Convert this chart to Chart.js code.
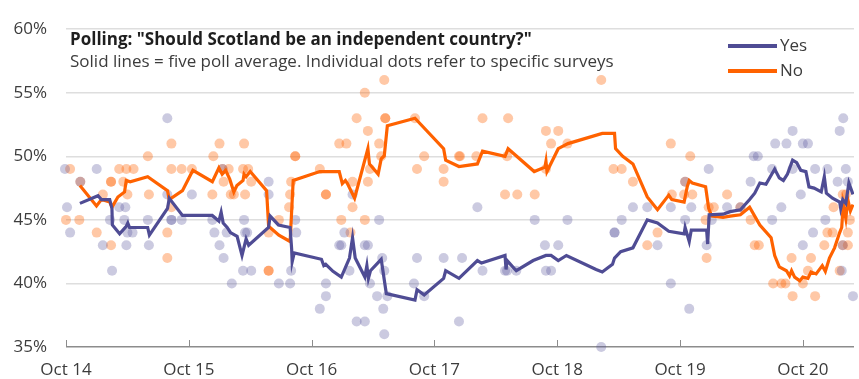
<!DOCTYPE html>
<html>
<head>
<meta charset="utf-8">
<script src="https://cdn.jsdelivr.net/npm/chart.js@4.4.1/dist/chart.umd.min.js"></script>
<style>
html, body { margin: 0; padding: 0; background: #fff; }
</style>
</head>
<body>
<canvas id="myChart" width="859" height="379"></canvas>
<script>
// x = months since Oct 2014
const xTickLabels = ['Oct 14', 'Oct 15', 'Oct 16', 'Oct 17', 'Oct 18', 'Oct 19', 'Oct 20'];

// five poll averages
const yesLineX = [1.36,3.13,3.46,4.27,4.49,4.53,5.24,5.89,6.04,6.21,7.98,8.15,9.92,10.09,11.38,14.29,14.94,15.16,15.36,15.75,16.07,16.72,17.2,17.6,17.85,19.79,19.95,20.76,21.9,22.05,22.1,22.3,24.96,25.19,25.38,26.09,26.9,27.7,28.0,28.26,29.2,29.4,29.55,29.75,30.8,31.3,34.1,34.3,35.0,36.9,37.1,38.4,40.2,40.6,42.9,43.0,43.1,44.0,45.65,46.9,47.4,48.1,48.9,51.8,52.4,53.4,53.6,54.2,55.4,56.8,57.8,58.9,60.4,60.5,60.9,61.1,62.6,62.7,62.85,64.2,64.9,65.9,66.8,67.3,67.8,68.4,69.25,69.7,70.1,70.5,71.0,71.4,71.8,72.3,72.6,73.1,73.8,74.1,74.3,74.9,75.6,75.7,75.9,76.2,76.5,76.9];
const yesLineY = [46.3,46.9,46.6,46.6,45.9,44.6,43.9,44.5,44.75,44.4,44.4,43.8,45.9,46.7,45.35,45.35,44.9,45.6,44.75,44.4,44.0,43.7,42.2,43.5,43.0,44.4,45.3,44.6,44.4,42.7,41.7,42.4,41.9,41.4,41.5,40.95,40.5,42.0,43.6,42.0,40.5,41.4,40.4,41.0,41.9,39.2,38.7,39.5,39.1,40.4,41.0,40.4,41.8,41.6,42.2,41.1,41.8,41.0,41.8,42.2,42.2,41.8,42.2,41.1,40.9,41.5,42.0,42.5,42.8,45.0,44.75,44.1,43.9,44.4,43.3,44.2,44.2,43.1,45.4,45.45,45.65,45.8,46.6,47.1,47.9,47.8,49.0,48.3,48.1,48.6,49.7,49.5,48.9,48.8,47.6,47.5,47.2,48.4,47.1,46.7,46.4,45.9,46.6,46.3,47.9,47.0];

const noLineX = [1.36,2.98,3.46,4.27,4.5,5.07,5.72,5.89,6.27,7.98,9.92,10.09,11.38,12.4,14.3,14.94,15.26,15.6,16.0,16.4,16.7,17.3,17.4,17.6,18.0,19.6,19.8,20.8,21.9,22.2,24.8,25.6,26.7,27.0,27.3,27.5,28.2,29.5,29.65,30.5,30.8,31.1,31.4,34.1,36.9,37.1,38.4,40.2,40.7,42.9,43.2,45.75,46.8,46.9,47.0,48.1,49.05,52.4,53.6,53.7,54.4,55.4,56.8,57.8,58.9,59.2,60.4,60.7,60.9,61.2,62.5,62.8,63.1,64.2,64.9,65.9,66.8,67.8,68.9,69.25,69.7,70.4,70.7,70.9,71.2,71.7,72.0,72.5,72.8,73.3,73.9,74.2,74.6,75.1,75.6,75.8,75.95,76.2,76.4,76.65,76.9];
const noLineY = [47.7,46.1,46.6,46.4,46.0,46.8,47.2,48.1,48.0,48.4,47.3,46.6,47.3,48.9,48.0,49.1,48.6,48.9,48.2,47.2,47.7,48.1,48.6,48.4,48.8,47.3,44.5,43.8,43.3,48.1,48.8,48.8,48.8,47.85,48.1,47.85,46.7,50.6,49.4,48.6,49.8,50.05,52.4,53.0,50.6,49.7,49.2,49.4,50.4,50.0,50.6,48.8,49.15,49.6,48.8,50.6,51.0,51.8,51.8,50.6,50.0,49.4,46.8,45.8,46.95,46.6,46.4,47.6,48.1,47.9,47.6,45.9,45.3,45.2,45.3,45.4,46.0,44.6,43.6,42.2,41.3,41.0,40.6,41.0,40.5,40.2,40.5,40.4,40.9,40.75,41.4,40.95,42.0,42.8,44.0,44.4,46.2,45.1,46.6,45.7,46.2];

// individual surveys
const yesDotX = [-0.1,0.1,0.4,1.4,3.0,3.6,4.3,4.5,5.2,5.7,5.8,5.9,6.0,6.5,8.0,8.1,9.9,9.9,10.3,10.3,11.3,12.3,14.3,14.5,15.0,15.3,15.4,15.7,16.2,17.3,17.4,17.5,17.7,18.1,19.8,19.8,20.8,21.9,22.0,22.4,22.5,24.8,25.4,25.4,26.7,26.9,27.2,27.7,28.0,28.4,29.2,29.2,29.5,29.7,30.4,30.6,30.9,31.1,31.0,31.1,31.4,34.0,34.3,35.0,36.9,38.4,38.7,40.2,40.7,42.9,43.1,44.0,45.8,46.8,46.9,47.4,48.1,49.0,52.3,53.6,53.6,54.3,55.4,56.8,57.8,59.1,59.1,60.5,60.5,60.9,61.1,62.6,62.8,63.1,64.6,65.9,66.9,67.2,67.6,69.0,69.0,69.3,69.9,70.4,71.0,71.0,71.8,72.0,72.0,72.5,73.0,73.2,74.2,74.4,75.4,75.6,75.8,75.9,75.95,76.2,76.4,76.9];
const yesDotY = [49,46,44,48,49,43,45,41,46,45,46,43,44,44,45,43,53,47,45,45,45,47,45,44,43,49,42,44,40,41,45,44,44,41,48,47,40,40,41,45,44,38,40,39,43,43,44,41,47,37,37,43,43,40,39,45,42,41,38,36,39,40,42,39,42,37,42,46,41,41,41,41,45,43,41,41,43,45,35,44,44,45,46,46,43,46,40,45,48,38,46,43,49,45,46,46,48,50,50,45,49,51,46,51,52,49,47,51,43,51,44,49,45,49,48,52,41,43,53,49,48,39];

const noDotX = [0.0,0.4,1.3,1.4,3.0,3.6,4.4,4.4,4.4,5.2,5.6,5.9,6.0,6.6,8.0,8.1,9.9,9.9,10.3,10.3,10.3,11.3,12.3,14.3,14.4,15.0,15.3,15.4,15.9,16.1,16.4,17.3,17.4,17.5,17.8,18.1,19.8,19.8,19.8,20.8,21.8,21.9,22.0,22.4,22.4,24.8,25.4,25.4,26.7,26.9,27.4,27.8,28.0,28.0,28.4,29.2,29.2,29.5,29.5,29.7,30.6,30.8,31.1,31.2,31.2,34.1,34.3,35.0,36.9,36.9,38.4,38.5,40.1,40.7,42.9,43.1,43.2,44.1,45.8,46.9,46.9,47.4,48.1,49.0,52.3,53.5,54.3,55.4,56.8,57.8,59.1,59.2,60.4,60.5,61.0,61.2,62.5,62.6,62.8,63.3,64.6,65.9,66.9,67.3,67.7,69.1,69.9,70.3,70.9,71.0,72.0,72.5,72.8,73.2,74.1,74.4,74.9,75.0,75.6,75.9,75.9,76.1,76.2,76.4,76.4,76.6];
const noDotY = [45,49,45,48,44,47,48,48,43,49,48,49,47,49,50,47,44,42,51,49,46,49,49,47,50,51,49,48,49,47,47,49,51,47,49,48,44,41,41,45,46,47,48,50,50,49,47,47,51,45,51,44,46,48,53,55,45,52,48,49,51,50,56,53,53,53,49,50,49,48,50,50,50,53,47,50,53,47,47,52,49,51,52,51,56,49,49,48,43,44,51,47,47,48,50,47,45,42,46,46,47,46,45,43,43,40,40,40,42,39,40,41,42,39,43,44,44,46,41,43,47,46,47,43,44,45];

const yesColor = '#4f4c94';
const noColor = '#ff6200';

function toPoints(xs, ys) {
    return xs.map((x, i) => ({ x: x, y: ys[i] }));
}

// title, subtitle and legend drawn on the canvas
const textPlugin = {
    id: 'textPlugin',
    afterDraw(chart) {
        const ctx = chart.ctx;
        const area = chart.chartArea;
        ctx.save();
        ctx.textBaseline = 'middle';
        ctx.textAlign = 'left';
        ctx.fillStyle = '#1e1e1e';
        ctx.font = 'bold 17px "Open Sans"';
        ctx.fillText('Polling: "Should Scotland be an independent country?"', area.left + 4, 40);
        ctx.fillStyle = '#3c3c3c';
        ctx.font = '17px "Open Sans"';
        ctx.fillText('Solid lines = five poll average. Individual dots refer to specific surveys', area.left + 4, 62);

        const lines = chart.data.datasets.filter(d => d.type === 'line');
        lines.forEach((d, i) => {
            const y = 46 + i * 25;
            ctx.strokeStyle = d.borderColor;
            ctx.lineWidth = 4;
            ctx.beginPath();
            ctx.moveTo(area.right - 126, y);
            ctx.lineTo(area.right - 77, y);
            ctx.stroke();
            ctx.fillStyle = '#3c3c3c';
            ctx.font = '17px "Open Sans"';
            ctx.fillText(d.label, area.right - 74, y);
        });

        // small tick marks pointing up from the axis
        const xs = chart.scales.x;
        ctx.strokeStyle = '#8c8c8c';
        ctx.lineWidth = 1;
        xs.ticks.forEach(t => {
            const px = Math.round(xs.getPixelForValue(t.value)) + 0.5;
            ctx.beginPath();
            ctx.moveTo(px, area.bottom);
            ctx.lineTo(px, area.bottom - 7);
            ctx.stroke();
        });
        ctx.restore();
    }
};

let myChart = document.getElementById('myChart').getContext('2d');
let pollChart = new Chart(myChart, {
    data: {
        datasets: [
            {
                type: 'line',
                label: 'Yes',
                data: toPoints(yesLineX, yesLineY),
                borderColor: yesColor,
                borderWidth: 3.2,
                pointRadius: 0,
                tension: 0
            },
            {
                type: 'line',
                label: 'No',
                data: toPoints(noLineX, noLineY),
                borderColor: noColor,
                borderWidth: 3.2,
                pointRadius: 0,
                tension: 0
            },
            {
                type: 'scatter',
                label: 'Yes surveys',
                data: toPoints(yesDotX, yesDotY),
                backgroundColor: 'rgba(82,80,153,0.3)',
                borderWidth: 0,
                pointRadius: 5,
                clip: false
            },
            {
                type: 'scatter',
                label: 'No surveys',
                data: toPoints(noDotX, noDotY),
                backgroundColor: 'rgba(255,98,0,0.35)',
                borderWidth: 0,
                pointRadius: 5,
                clip: false
            }
        ]
    },
    options: {
        responsive: false,
        animation: false,
        events: [],
        layout: { padding: { top: 25, right: 0, left: 0, bottom: 0 } },
        plugins: {
            legend: { display: false },
            title: { display: false },
            tooltip: { enabled: false }
        },
        scales: {
            x: {
                type: 'linear',
                min: 0,
                max: 77,
                afterFit: s => { s.height = 32; },
                grid: { display: false, drawTicks: false },
                border: { display: false },
                ticks: {
                    stepSize: 12,
                    autoSkip: false,
                    includeBounds: false,
                    maxRotation: 0,
                    padding: 13,
                    color: '#3c3c3c',
                    font: { family: '"Open Sans"', size: 17 },
                    callback: v => (v % 12 === 0 ? xTickLabels[v / 12] : '')
                }
            },
            y: {
                min: 35,
                max: 60,
                afterFit: s => { s.width = 66; },
                grid: {
                    drawTicks: false,
                    color: c => (c.tick && c.tick.value === 35 ? '#8c8c8c' : '#dedede'),
                    lineWidth: 1.5
                },
                border: { display: false },
                ticks: {
                    stepSize: 5,
                    padding: 19,
                    color: '#3c3c3c',
                    font: { family: '"Open Sans"', size: 17 },
                    callback: v => v + '%'
                }
            }
        }
    },
    plugins: [textPlugin]
});
</script>
</body>
</html>
